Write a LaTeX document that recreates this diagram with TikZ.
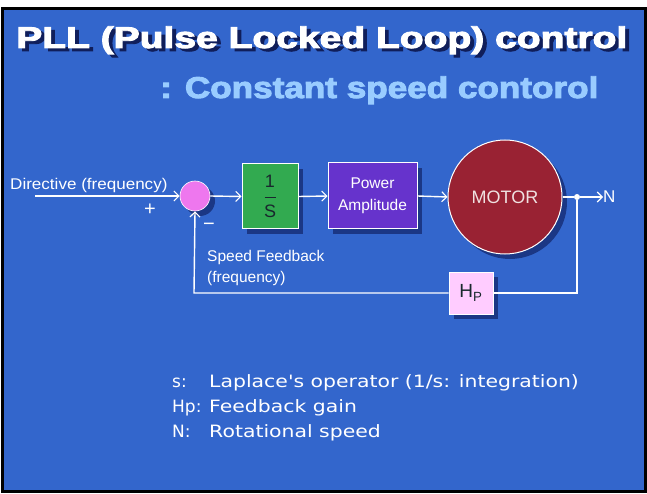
\documentclass[tikz,border=0pt]{standalone}
\usepackage{fontspec}
\setmainfont{Liberation Sans}
\newfontfamily\heavy{Liberation Sans}[UprightFont={* Bold},UprightFeatures={FakeBold=3}]
\newfontfamily\legfont{DejaVu Sans}
\usetikzlibrary{arrows.meta,shadows}
\definecolor{bgblue}{RGB}{51,102,204}
\definecolor{navy}{RGB}{16,30,90}
\definecolor{subblue}{RGB}{153,204,255}
\definecolor{sumpink}{RGB}{238,119,238}
\definecolor{boxgreen}{RGB}{50,170,80}
\definecolor{boxpurple}{RGB}{102,51,204}
\definecolor{motorred}{RGB}{153,34,51}
\definecolor{hppink}{RGB}{255,204,255}
\definecolor{darktext}{RGB}{25,40,45}
\definecolor{shadowblue}{RGB}{20,40,110}
\newcommand\shadowtext[1]{\rlap{\hspace*{3pt}\raisebox{-3pt}{\textcolor{navy}{#1}}}#1}
\tikzset{
  shad/.style={drop shadow={shadow xshift=5pt,shadow yshift=-5pt,fill=shadowblue,opacity=0.75}},
  blockbox/.style={rectangle,draw=white,line width=1pt,shad,inner sep=2pt},
  sumnode/.style={circle,draw=white,line width=0.6pt,fill=sumpink,minimum size=30pt,inner sep=0pt,shad},
  wire/.style={draw=white,line width=1.4pt},
  flow/.style={wire,-{Straight Barb[length=5pt,width=10pt,line width=1.1pt]}},
  lab/.style={text=white,font=\fontsize{15.5}{18}\selectfont,inner sep=0pt},
  legkey/.style={text=white,font=\legfont\fontsize{17}{20}\selectfont,inner sep=0pt,anchor=base west},
  leg/.style={legkey,xscale=1.2},
}
\begin{document}
\begin{tikzpicture}[x=1pt,y=-1pt]
\useasboundingbox (0,0) rectangle (647,494);
\fill[white] (0,0) rectangle (647,494);
\draw[line width=3pt,fill=bgblue] (2,8.5) rectangle (645.5,491);

% titles
\node[anchor=base west,inner sep=0pt,text=white,font=\heavy\fontsize{30}{34}\selectfont,xscale=1.3] (title) at (16,48) {\shadowtext{PLL (Pulse Locked Loop) control}};
\node[anchor=base west,inner sep=0pt,text=subblue,font=\heavy\fontsize{30}{34}\selectfont,xscale=1.17] (subtitle) at (160,98) {: Constant speed contorol};

% blocks
\node[sumnode] (sum) at (195,196) {};
\node[blockbox,fill=boxgreen,minimum width=56pt,minimum height=65pt,text=darktext,font=\fontsize{18}{20}\selectfont,align=center] (integ) at (270,196.5) {1\\[-6pt]\rule[4pt]{11pt}{1pt}\\[-4pt]S};
\node[blockbox,fill=boxpurple,minimum width=89pt,minimum height=66pt,text=white,font=\fontsize{15.5}{22}\selectfont,align=center] (amp) at (372.5,196) {Power\\Amplitude};
\node[circle,draw=white,line width=1pt,fill=motorred,minimum size=114pt,inner sep=0pt,shad,text={rgb,255:red,240;green,225;blue,225},font=\fontsize{18}{20}\selectfont] (motor) at (505,197) {MOTOR};
\node[circle,fill=white,inner sep=0pt,minimum size=6pt] (dot) at (577,197) {};
\node[lab,anchor=west,font=\fontsize{17}{20}\selectfont] (N) at (603,197) {N};
\node[blockbox,fill=hppink,minimum width=44pt,minimum height=42pt,text=darktext,font=\fontsize{19}{20}\selectfont] (hp) at (471,293) {H\textsubscript{P}};

% connectors
\coordinate (din) at (35,196);
\coordinate (fbr) at (577,293);
\coordinate (fbl) at (194,293);
\draw[flow] (din) -- (sum.west);
\draw[flow] (sum.east) -- (integ.west);
\draw[flow] (integ.east) -- (amp.west);
\draw[flow] (amp.east) -- (motor.west);
\draw[wire] (motor.east) -- (dot);
\draw[flow] (dot) -- (N.west);
\draw[wire] (dot) -- (fbr) -- (hp.east);
\draw[flow] (hp.west) -- (fbl) -- (sum.south);

% labels
\node[lab,anchor=base west,xscale=1.1] (dirlab) at (10,190) {Directive (frequency)};
\node[lab,font=\fontsize{20}{20}\selectfont] (plus) at (150,210) {+};
\node[lab,font=\fontsize{20}{20}\selectfont] (minus) at (209,227) {\textminus};
\node[lab,anchor=base west] (sf1) at (207,261) {Speed Feedback};
\node[lab,anchor=base west] (sf2) at (207,282) {(frequency)};

% legend
\node[legkey] (k1) at (172,387) {s:};
\node[leg] (d1) at (209,387) {Laplace's operator (1/s: integration)};
\node[legkey] (k2) at (172,412) {Hp:};
\node[leg] (d2) at (209,412) {Feedback gain};
\node[legkey] (k3) at (172,437) {N:};
\node[leg] (d3) at (209,437) {Rotational speed};
\end{tikzpicture}
\end{document}
